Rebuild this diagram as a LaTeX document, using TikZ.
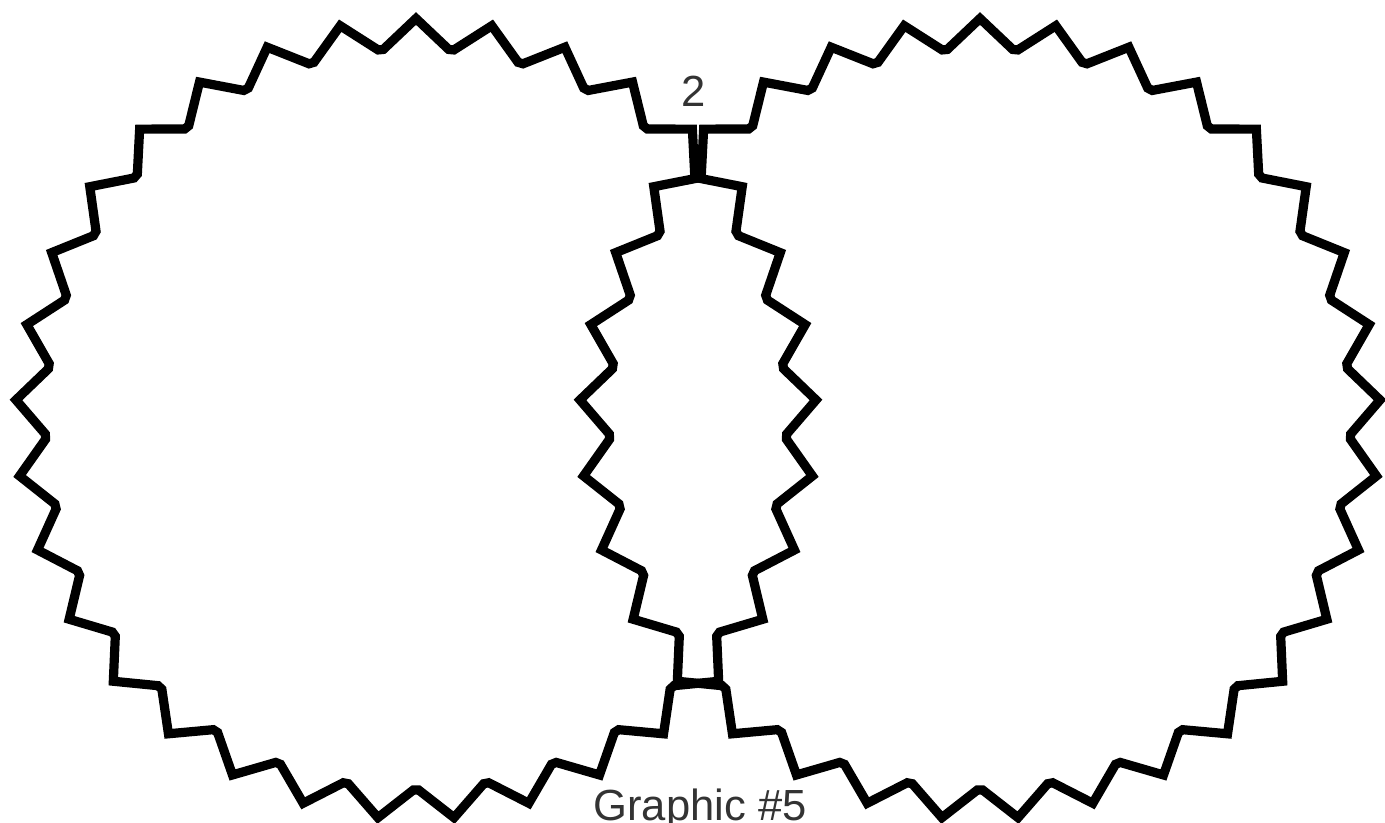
\documentclass[tikz,border=0pt]{standalone}
\usepackage{fontspec}
\setmainfont{Liberation Sans}
\usepackage{tikz}
\usetikzlibrary{positioning}
\usepackage{xcolor}
\definecolor{labelgray}{HTML}{333333}
\tikzset{
  sawline/.style={draw=black,line width=0.092cm,line join=miter},
  ringlabel/.style={font=\fontsize{12.4}{14}\selectfont,text=labelgray,inner sep=0pt}
}
\newcommand{\sawout}{4.005}
\newcommand{\sawin}{3.71}
\newcommand{\sawstep}{10.909}
\newcommand{\drawsawring}[3][]{% [options]{x}{y}
  \begin{scope}[shift={(#2,#3)},#1]
    % 33 teeth, outer tip at the top, small flat at each inner corner
    \draw[sawline] (90:\sawout)
      \foreach \j in {1,...,32}{
        -- ({90+(\j-0.5)*\sawstep-0.4}:\sawin)
        -- ({90+(\j-0.5)*\sawstep+0.4}:\sawin)
        -- ({90+\j*\sawstep}:\sawout)
      }
      -- ({90+32.5*\sawstep-0.4}:\sawin)
      -- ({90+32.5*\sawstep+0.4}:\sawin)
      -- cycle;
  \end{scope}
}

\begin{document}
\begin{tikzpicture}
  \useasboundingbox (0,0) rectangle (13.85,8.23);
  % Two rings
  \drawsawring{4.16}{4.04}
  \drawsawring{9.80}{4.04}
  % Labels
  \node[ringlabel,anchor=base] (lbltop) at (6.94,7.16) {2};
  \node[ringlabel,anchor=base] (caption) at (7.00,0.02) {Graphic \#5};
\end{tikzpicture}
\end{document}
